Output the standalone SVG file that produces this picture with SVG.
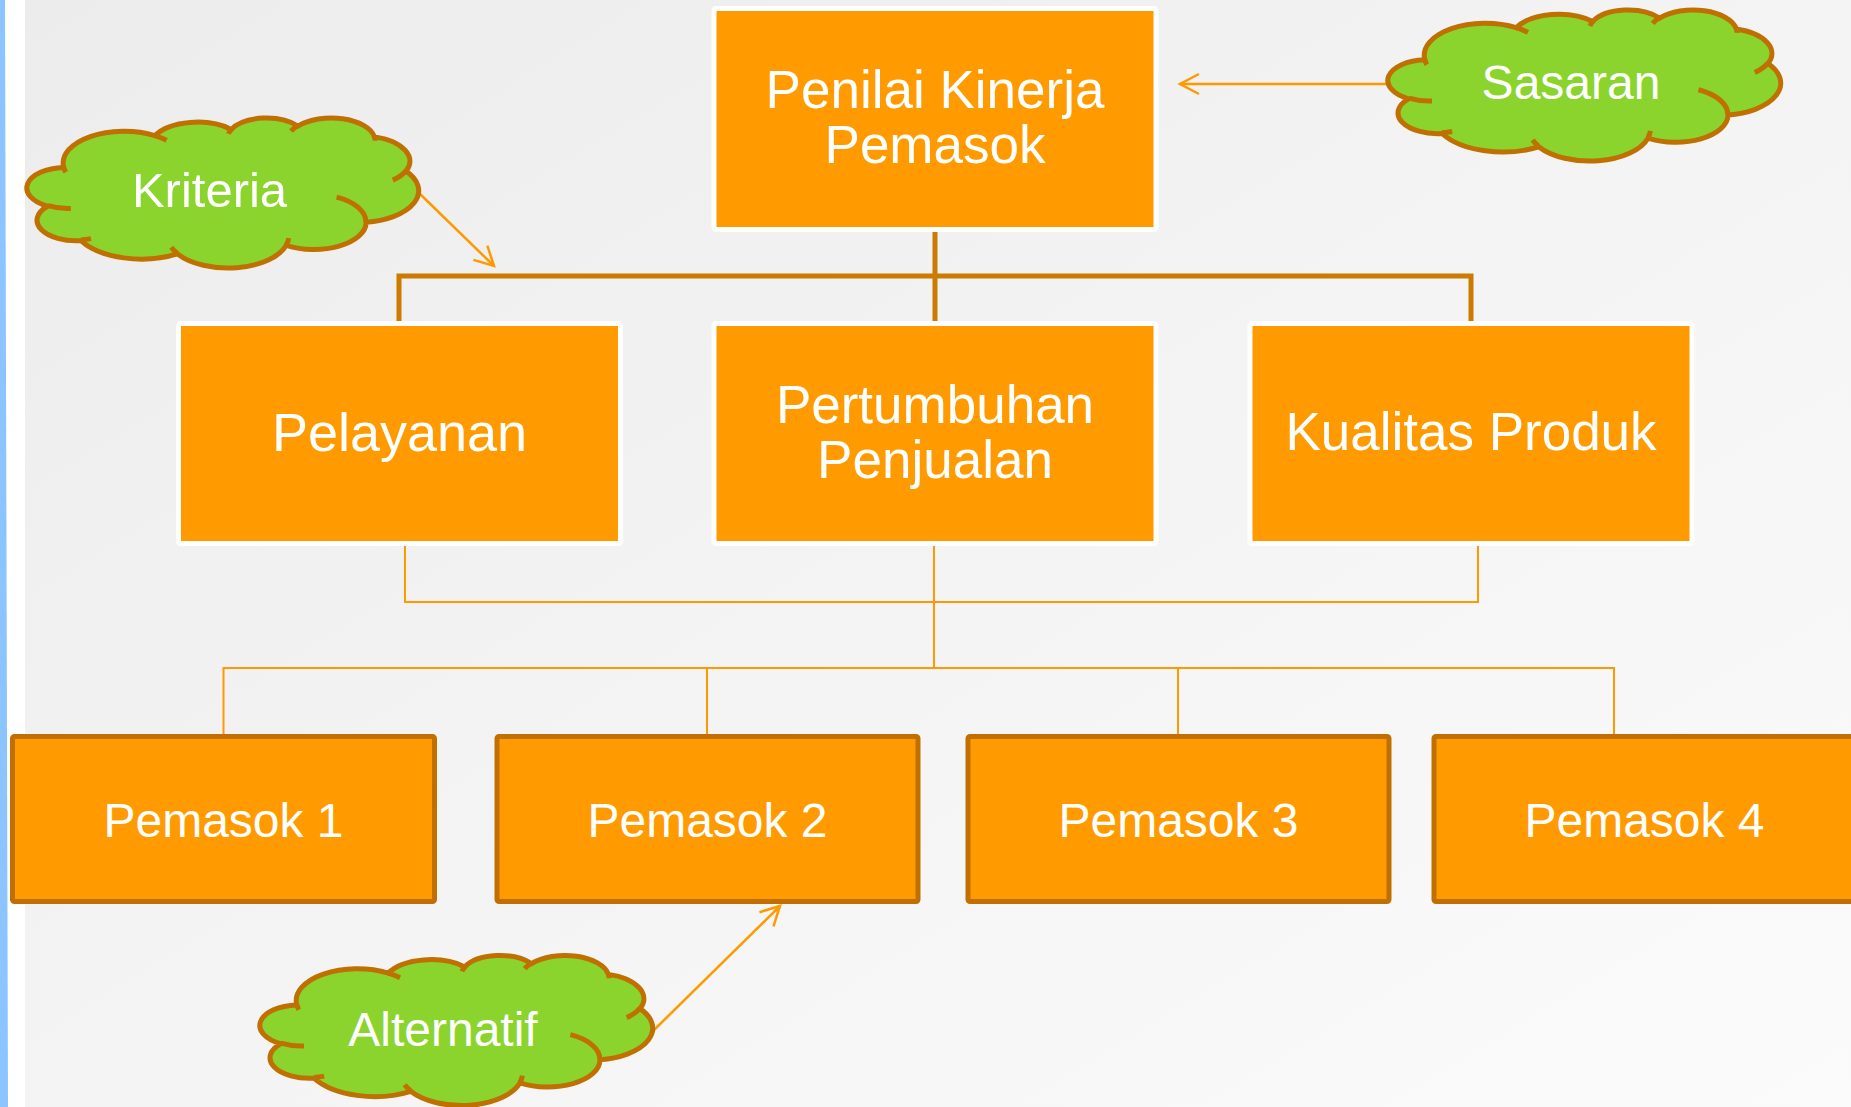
<svg xmlns="http://www.w3.org/2000/svg" width="1851" height="1107" viewBox="0 0 1851 1107">
<style>
.box{fill:#FF9B00;stroke:#FFFFFF;stroke-width:5}
.sup{fill:#FF9B00;stroke:#C07000;stroke-width:5}
.t{fill:#FFFFFF;font-family:"Liberation Sans",Arial,sans-serif;text-anchor:middle}
.cloud{fill:#8BD42E;stroke:#C07000;stroke-width:5;vector-effect:non-scaling-stroke}
.cres{fill:none;stroke:#C07000;stroke-width:5;vector-effect:non-scaling-stroke}
.thick{fill:none;stroke:#CC7A00;stroke-width:5}
.thin{fill:none;stroke:#FF9900;stroke-width:2}
.arr{fill:none;stroke:#FF9900;stroke-width:2.5;marker-end:url(#open)}
</style>
<defs>
<linearGradient id="bg" x1="0" y1="0" x2="1" y2="1">
<stop offset="0" stop-color="#ECECEC"/>
<stop offset="1" stop-color="#FBFBFB"/>
</linearGradient>
<marker id="open" markerUnits="userSpaceOnUse" markerWidth="30" markerHeight="30" viewBox="-25 -15 30 30" refX="0" refY="0" orient="auto">
<path d="M-19 -10 L0 0 L-19 10" fill="none" stroke="#FF9900" stroke-width="2.5"/>
</marker>
</defs>

<rect x="0" y="0" width="1851" height="1107" fill="#FFFFFF"/>
<rect x="25" y="0" width="1826" height="1107" fill="url(#bg)"/>
<polygon points="0,0 5,0 8,1107 0,1107" fill="#8CC4FF"/>

<g id="connectors">
<path class="thick" d="M399 321 V276 H1471 V321 M935 232 V321"/>
<path class="thin" d="M405 546 V602 H1478 V546 M934 546 V668 M223.5 734 V668 H1614 V734 M707 668 V734 M1178 668 V734"/>
<line class="arr" x1="1390" y1="84" x2="1180" y2="84"/>
<line class="arr" x1="419" y1="193" x2="494" y2="266"/>
<line class="arr" x1="654" y1="1030" x2="780" y2="906"/>
</g>

<g id="node-penilai">
<rect class="box" x="714" y="8.5" width="442" height="221" rx="2"/>
<text class="t" x="935" y="108" font-size="53">Penilai Kinerja</text>
<text class="t" x="935" y="163" font-size="53">Pemasok</text>
</g>

<g id="node-pelayanan">
<rect class="box" x="178.5" y="323.5" width="442" height="220" rx="2"/>
<text class="t" x="399.5" y="451" font-size="54">Pelayanan</text>
</g>

<g id="node-pertumbuhan">
<rect class="box" x="714" y="323.5" width="442" height="220" rx="2"/>
<text class="t" x="935" y="423" font-size="53">Pertumbuhan</text>
<text class="t" x="935" y="478" font-size="53">Penjualan</text>
</g>

<g id="node-kualitas">
<rect class="box" x="1250" y="323.5" width="442" height="220" rx="2"/>
<text class="t" x="1471" y="450" font-size="53">Kualitas Produk</text>
</g>

<g id="node-pemasok1">
<rect class="sup" x="12.5" y="736.5" width="422" height="165" rx="2"/>
<text class="t" x="223.5" y="837" font-size="48">Pemasok 1</text>
</g>
<g id="node-pemasok2">
<rect class="sup" x="497" y="736.5" width="421" height="165" rx="2"/>
<text class="t" x="707.5" y="837" font-size="48">Pemasok 2</text>
</g>
<g id="node-pemasok3">
<rect class="sup" x="968" y="736.5" width="421" height="165" rx="2"/>
<text class="t" x="1178.5" y="837" font-size="48">Pemasok 3</text>
</g>
<g id="node-pemasok4">
<rect class="sup" x="1434" y="736.5" width="421" height="165" rx="2"/>
<text class="t" x="1644.5" y="837" font-size="48">Pemasok 4</text>
</g>

<g id="node-kriteria">
<g transform="translate(28.5 117.5) scale(0.0090278 0.0034722)">
<path class="cloud" d="M3900 14370 A6753 9190 0 0 1 14005 5202 A5333 7267 0 0 1 22457 3432 A4365 5945 0 0 1 29835 2481 A4857 6595 0 0 1 38320 5576 A5333 7273 0 0 1 41820 15460 A6775 9220 0 0 1 37406 30202 A5785 7867 0 0 1 28557 36812 A6752 9215 0 0 1 16483 39266 A7720 10543 0 0 1 5808 35475 A4360 5918 0 0 1 2118 25552 A4345 5945 0 0 1 3900 14370 Z"/>
<path class="cres" d="M4693 26177 A4345 5945 0 0 1 2160 25380 M6928 34899 A4360 5918 0 0 1 5819 35281 M16478 39090 A6752 9215 0 0 1 15809 37348 M28827 34751 A6752 9215 0 0 1 28560 36660 M34129 22954 A5785 7867 0 0 1 37381 30090 M41798 15354 A5333 7273 0 0 1 40350 18029 M38324 5426 A4857 6595 0 0 1 38400 6690 M29078 3952 A4857 6595 0 0 1 29820 2340 M22141 4720 A4365 5945 0 0 1 22500 3330 M14000 5192 A6753 9190 0 0 1 15301 6542 M4127 15789 A6753 9190 0 0 1 3900 14371"/>
</g>
<text class="t" x="209.5" y="207" font-size="49">Kriteria</text>
</g>

<g id="node-sasaran">
<g transform="translate(1389.5 9.5) scale(0.009051 0.0034954)">
<path class="cloud" d="M3900 14370 A6753 9190 0 0 1 14005 5202 A5333 7267 0 0 1 22457 3432 A4365 5945 0 0 1 29835 2481 A4857 6595 0 0 1 38320 5576 A5333 7273 0 0 1 41820 15460 A6775 9220 0 0 1 37406 30202 A5785 7867 0 0 1 28557 36812 A6752 9215 0 0 1 16483 39266 A7720 10543 0 0 1 5808 35475 A4360 5918 0 0 1 2118 25552 A4345 5945 0 0 1 3900 14370 Z"/>
<path class="cres" d="M4693 26177 A4345 5945 0 0 1 2160 25380 M6928 34899 A4360 5918 0 0 1 5819 35281 M16478 39090 A6752 9215 0 0 1 15809 37348 M28827 34751 A6752 9215 0 0 1 28560 36660 M34129 22954 A5785 7867 0 0 1 37381 30090 M41798 15354 A5333 7273 0 0 1 40350 18029 M38324 5426 A4857 6595 0 0 1 38400 6690 M29078 3952 A4857 6595 0 0 1 29820 2340 M22141 4720 A4365 5945 0 0 1 22500 3330 M14000 5192 A6753 9190 0 0 1 15301 6542 M4127 15789 A6753 9190 0 0 1 3900 14371"/>
</g>
<text class="t" x="1571" y="99" font-size="48">Sasaran</text>
</g>

<g id="node-alternatif">
<g transform="translate(261.5 955) scale(0.009051 0.0034722)">
<path class="cloud" d="M3900 14370 A6753 9190 0 0 1 14005 5202 A5333 7267 0 0 1 22457 3432 A4365 5945 0 0 1 29835 2481 A4857 6595 0 0 1 38320 5576 A5333 7273 0 0 1 41820 15460 A6775 9220 0 0 1 37406 30202 A5785 7867 0 0 1 28557 36812 A6752 9215 0 0 1 16483 39266 A7720 10543 0 0 1 5808 35475 A4360 5918 0 0 1 2118 25552 A4345 5945 0 0 1 3900 14370 Z"/>
<path class="cres" d="M4693 26177 A4345 5945 0 0 1 2160 25380 M6928 34899 A4360 5918 0 0 1 5819 35281 M16478 39090 A6752 9215 0 0 1 15809 37348 M28827 34751 A6752 9215 0 0 1 28560 36660 M34129 22954 A5785 7867 0 0 1 37381 30090 M41798 15354 A5333 7273 0 0 1 40350 18029 M38324 5426 A4857 6595 0 0 1 38400 6690 M29078 3952 A4857 6595 0 0 1 29820 2340 M22141 4720 A4365 5945 0 0 1 22500 3330 M14000 5192 A6753 9190 0 0 1 15301 6542 M4127 15789 A6753 9190 0 0 1 3900 14371"/>
</g>
<text class="t" x="443" y="1046" font-size="48">Alternatif</text>
</g>
</svg>
